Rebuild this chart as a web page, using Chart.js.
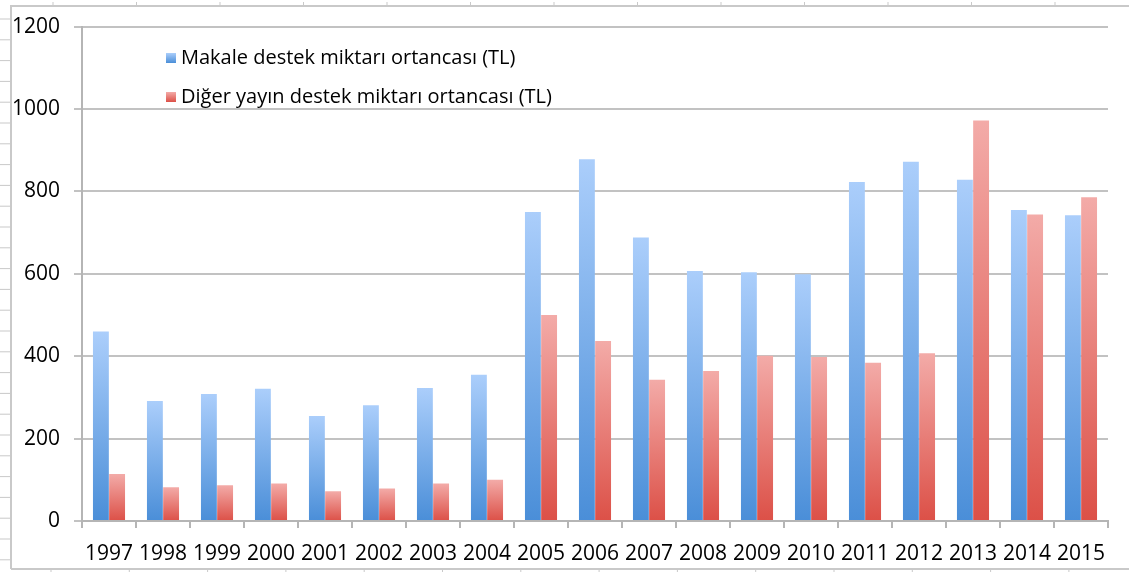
<!DOCTYPE html>
<html>
<head>
<meta charset="utf-8">
<script src="https://cdn.jsdelivr.net/npm/chart.js@4.4.1/dist/chart.umd.min.js"></script>
<style>
  html, body { margin: 0; padding: 0; background: #fff; }
  #wrap { width: 1129px; height: 572px; position: relative; }
</style>
</head>
<body>
<div id="wrap"><canvas id="myChart"></canvas></div>
<script>
// values
const years = ['1997', '1998', '1999', '2000', '2001', '2002', '2003', '2004', '2005', '2006',
               '2007', '2008', '2009', '2010', '2011', '2012', '2013', '2014', '2015'];
const makale = [460, 291, 308, 321, 255, 281, 323, 355, 750, 878, 688, 607, 604, 599, 823, 872, 828, 755, 742];
const diger  = [114, 82, 87, 91, 72, 79, 91, 100, 500, 437, 343, 364, 401, 398, 384, 407, 972, 744, 786];
const seriesLabels = ['Makale destek miktarı ortancası (TL)', 'Diğer yayın destek miktarı ortancası (TL)'];
const yTicks = [0, 200, 400, 600, 800, 1000, 1200];

const blue = { top: '#abcefb', bottom: '#4a8ed8' };
const red  = { top: '#f3aba8', bottom: '#dc5047' };

// each bar gets its own light-top / dark-bottom gradient
function barFill(c, col) {
    const chart = c.chart;
    if (!chart.chartArea || c.type !== 'data') return col.bottom;
    const y = chart.scales.y;
    const top = y.getPixelForValue(c.raw);
    const base = y.getPixelForValue(0);
    if (!isFinite(top) || top === base) return col.bottom;
    const g = chart.ctx.createLinearGradient(0, top, 0, base);
    g.addColorStop(0, col.top);
    g.addColorStop(1, col.bottom);
    return g;
}

// screenshot frame with its little ruler ticks
const framePlugin = {
    id: 'frame',
    beforeDraw(chart) {
        const ctx = chart.ctx;
        ctx.save();
        ctx.fillStyle = '#fff';
        ctx.fillRect(0, 0, chart.width, chart.height);
        ctx.strokeStyle = '#c9c9c9';
        ctx.lineWidth = 2;
        ctx.beginPath();
        ctx.moveTo(11, 569); ctx.lineTo(11, 6); ctx.lineTo(chart.width, 6);
        ctx.moveTo(11, 569); ctx.lineTo(chart.width, 569);
        ctx.stroke();
        ctx.lineWidth = 1;
        ctx.beginPath();
        for (let x = 53; x < chart.width; x += 83.5) { ctx.moveTo(x, 2); ctx.lineTo(x, 7); }
        for (let y = 19; y < 569; y += 20.8) { ctx.moveTo(0, y); ctx.lineTo(10, y); }
        for (let x = 51; x < chart.width; x += 78.3) { ctx.moveTo(x, 569); ctx.lineTo(x, 572); }
        ctx.stroke();
        ctx.restore();
    }
};

// legend drawn inside the plot, top left
const innerLegend = {
    id: 'innerLegend',
    afterDatasetsDraw(chart) {
        const ctx = chart.ctx;
        const cols = [blue, red];
        ctx.save();
        ctx.font = '20px "Open Sans"';
        ctx.textBaseline = 'middle';
        chart.data.datasets.forEach((ds, i) => {
            const yc = 58 + i * 39;
            const g = ctx.createLinearGradient(0, yc - 5, 0, yc + 5);
            g.addColorStop(0, cols[i].top);
            g.addColorStop(1, cols[i].bottom);
            ctx.fillStyle = g;
            ctx.fillRect(166, yc - 5, 10, 10);
            ctx.fillStyle = '#000';
            ctx.fillText(ds.label, 181, yc);
        });
        ctx.restore();
    }
};

Chart.defaults.font.family = '"Open Sans", sans-serif';
Chart.defaults.font.size = 21;
Chart.defaults.color = '#000';

new Chart(document.getElementById('myChart'), {
    type: 'bar',
    data: {
        labels: years,
        datasets: [
            {
                label: seriesLabels[0],
                data: makale,
                backgroundColor: c => barFill(c, blue),
                categoryPercentage: 0.6,
                barPercentage: 0.98
            },
            {
                label: seriesLabels[1],
                data: diger,
                backgroundColor: c => barFill(c, red),
                categoryPercentage: 0.6,
                barPercentage: 0.98
            }
        ]
    },
    options: {
        responsive: true,
        maintainAspectRatio: false,
        animation: false,
        layout: { padding: { top: 25, right: 21, left: 0, bottom: 0 } },
        plugins: {
            legend: { display: false },
            tooltip: { enabled: false }
        },
        scales: {
            x: {
                grid: {
                    offset: true,
                    drawOnChartArea: false,
                    drawTicks: true,
                    tickLength: 7,
                    color: '#b5b5b5',
                    lineWidth: 2
                },
                border: { display: true, color: '#b5b5b5', width: 2 },
                ticks: { padding: 13, maxRotation: 0, autoSkip: false },
                afterFit(scale) { scale.height = 51; }
            },
            y: {
                min: 0,
                max: 1200,
                afterBuildTicks(scale) { scale.ticks = yTicks.map(v => ({ value: v })); },
                grid: { color: '#c2c2c2', lineWidth: 2, tickLength: 8 },
                border: { display: true, color: '#b5b5b5', width: 2 },
                ticks: { padding: 14, callback: v => String(v) },
                afterFit(scale) { scale.width = 82; }
            }
        }
    },
    plugins: [framePlugin, innerLegend]
});
</script>
</body>
</html>
